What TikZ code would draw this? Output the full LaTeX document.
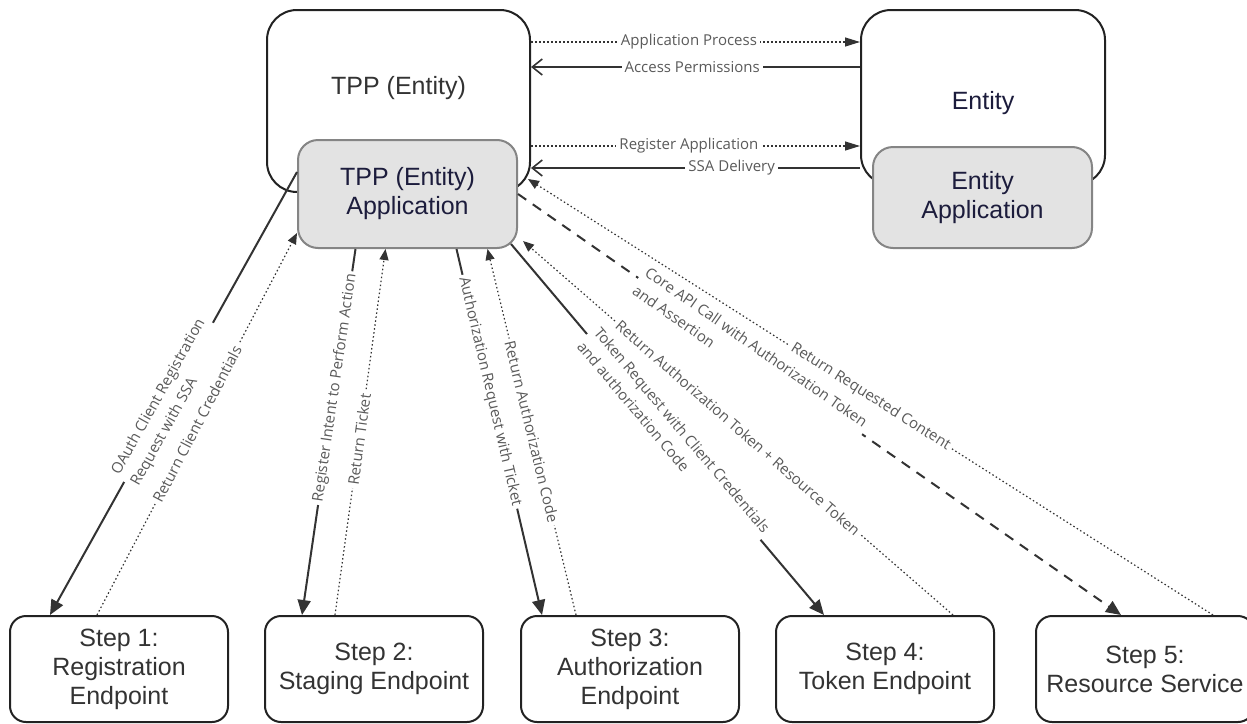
\documentclass[tikz,border=0pt]{standalone}
\usepackage{fontspec}
\setmainfont{Liberation Sans}
\newfontfamily\lblfont{Open Sans}
\usetikzlibrary{arrows.meta,positioning}

\definecolor{boxline}{HTML}{222222}
\definecolor{appfill}{HTML}{E3E3E3}
\definecolor{appline}{HTML}{858585}
\definecolor{navy}{HTML}{1C1C3C}
\definecolor{linegray}{HTML}{333333}
\definecolor{lblgray}{HTML}{5A5A5A}

\begin{document}
\begin{tikzpicture}
	[x=1pt,y=-1pt,
		outer node/.style={draw=boxline,line width=2pt,rounded corners=30pt,fill=white,inner sep=0pt},
		app node/.style={draw=appline,line width=2pt,rounded corners=20pt,fill=appfill,text=navy,
				font=\fontsize{25}{29}\selectfont,align=center,inner sep=0pt,minimum width=219pt},
		step node/.style={draw=boxline,line width=2pt,rounded corners=16pt,fill=white,text=linegray,
				font=\fontsize{25}{29}\selectfont,align=center,inner sep=0pt,minimum width=218pt,minimum height=106pt},
		box text/.style={font=\fontsize{25}{29}\selectfont,inner sep=0pt},
		lbl/.style={fill=white,text=lblgray,font=\lblfont\fontsize{15}{22}\selectfont,inner sep=3pt},
		req/.style={draw=linegray,line width=2pt,-{Triangle[length=15pt,width=13pt]}},
		ret/.style={draw=linegray,line width=1.2pt,dash pattern=on 1.5pt off 2.5pt,-{Triangle[length=11pt,width=9pt]}},
		core/.style={draw=linegray,line width=2pt,dash pattern=on 10pt off 8pt,-{Triangle[length=15pt,width=13pt]}},
		proc/.style={draw=linegray,line width=1.2pt,dash pattern=on 1.5pt off 2.5pt,-{Triangle[length=15pt,width=9pt]}},
		perm/.style={draw=linegray,line width=1.6pt,-{Straight Barb[length=10pt,width=16pt]}}]

	\useasboundingbox (0,0) rectangle (1247,723);

	% top boxes
	\node[outer node, minimum width=263pt, minimum height=182pt] (tpp) at (398.5,101) {};
	\node[box text, text=linegray] (tpptxt) at ([yshift=13pt]tpp.center) {TPP (Entity)};
	\node[outer node, minimum width=244pt, minimum height=175pt] (ent) at (983,97.5) {};
	\node[box text, text=navy] (enttxt) at ([yshift=-5.5pt]ent.center) {Entity};
	\node[app node, minimum height=108pt] (tppapp) at (407.5,194) {TPP (Entity)\\Application};
	\node[app node, minimum height=101pt] (entapp) at (982.5,197.5) {Entity\\Application};

	% steps
	\node[step node] (s1) at (119,669) {Step 1:\\Registration\\Endpoint};
	\node[step node] (s2) [right=35pt of s1] {Step 2:\\Staging Endpoint};
	\node[step node] (s3) [right=36pt of s2] {Step 3:\\Authorization\\Endpoint};
	\node[step node] (s4) [right=35pt of s3] {Step 4:\\Token Endpoint};
	\node[step node] (s5) [right=40pt of s4] {Step 5:\\Resource Service};

	\coordinate (r1) at (0,42);
	\coordinate (r2) at (0,67);
	\coordinate (r3) at (0,146);
	\coordinate (r4) at (0,168);

	\path
	(tpp.east |- r1) edge[proc] node[lbl,pos=.48] {Application Process} (ent.west |- r1)
	(ent.west |- r2) edge[perm] node[lbl,pos=.51] {Access Permissions} (tpp.east |- r2)
	(tpp.east |- r3) edge[proc] node[lbl,pos=.48] {Register Application} (ent.west |- r3)
	(ent.west |- r4) edge[perm] node[lbl,pos=.39] {SSA Delivery} (tpp.east |- r4);

	\path
	([yshift=22pt]tppapp.west) edge[req] node[lbl,sloped,align=left,pos=.52] {OAuth Client Registration\\Request with SSA} ([xshift=-69pt]s1.north)
	([xshift=-22pt]s1.north) edge[ret] node[lbl,sloped,pos=.5] {Return Client Credentials} ([yshift=-39pt]tppapp.west)
	([xshift=-52pt]tppapp.south) edge[req] node[lbl,sloped,pos=.38] {Register Intent to Perform Action} ([xshift=-72pt]s2.north)
	([xshift=-39pt]s2.north) edge[ret] node[lbl,sloped,pos=.48] {Return Ticket} ([xshift=-22pt]tppapp.south)
	([xshift=49pt]tppapp.south) edge[req] node[lbl,sloped,pos=.39] {Authorization Request with Ticket} ([xshift=-88pt]s3.north)
	([xshift=-54pt]s3.north) edge[ret] node[lbl,sloped,pos=.5] {Return Authorization Code} ([xshift=80pt]tppapp.south)
	([xshift=-7pt,yshift=5pt]tppapp.south east) edge[req] node[lbl,sloped,align=left,pos=.52] {Token Request with Client Credentials\\and authorization Code} ([xshift=-61pt]s4.north)
	([xshift=68pt]s4.north) edge[ret] node[lbl,sloped,pos=.5] {Return Authorization Token + Resource Token} ([xshift=5pt,yshift=8pt]tppapp.south east)
	(tppapp.east) edge[core] node[lbl,sloped,align=left,pos=.385] {Core API Call with Authorization Token\\and Assertion} ([xshift=-24pt]s5.north)
	([xshift=68pt]s5.north) edge[ret] node[lbl,sloped,pos=.5] {Return Requested Content} ([xshift=-3pt,yshift=14pt]tpp.south east);
\end{tikzpicture}
\end{document}
